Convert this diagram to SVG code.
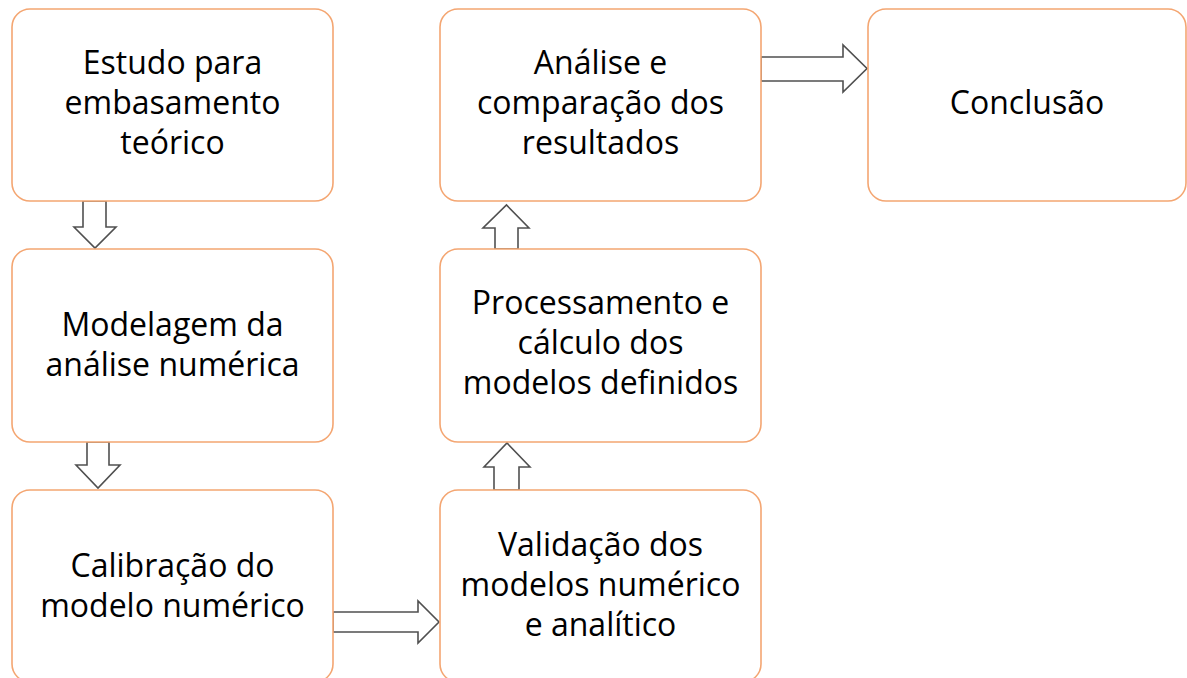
<svg xmlns="http://www.w3.org/2000/svg" width="1187" height="678" viewBox="0 0 1187 678">
<style>
.box{fill:#fff;stroke:#F4A672;stroke-width:1.6}
.t{font-family:"Open Sans",Lato,sans-serif;font-size:32px;fill:#000;text-anchor:middle}
.ar{fill:#fff;stroke:#505050;stroke-width:1.6;stroke-linejoin:miter}
</style>
<rect width="1187" height="678" fill="#fff"/>
<g id="connectors">
<polygon class="ar" points="83,201 106,201 106,227 116,227 95,248 74,227 83,227"/>
<polygon class="ar" points="87,442 109,442 109,465 120,465 98,488 76,465 87,465"/>
<polygon class="ar" points="333,612 418,612 418,601 439,622 418,643 418,632 333,632"/>
<polygon class="ar" points="495,249 518,249 518,228 529,228 506.5,205 483,228 495,228"/>
<polygon class="ar" points="494,490 519,490 519,467 530,467 507,443 484,467 494,467"/>
<polygon class="ar" points="761,57 843,57 843,45 867,68.5 843,92 843,81 761,81"/>
</g>
<g id="n1"><rect class="box" x="12" y="9" width="321" height="192" rx="18"/>
<text class="t" x="172.5" y="74">Estudo para</text><text class="t" x="172.5" y="114">embasamento</text><text class="t" x="172.5" y="154">teórico</text></g>
<g id="n2"><rect class="box" x="12" y="249" width="321" height="193" rx="18"/>
<text class="t" x="172.5" y="336">Modelagem da</text><text class="t" x="172.5" y="376">análise numérica</text></g>
<g id="n3"><rect class="box" x="12" y="490" width="321" height="192" rx="18"/>
<text class="t" x="172.5" y="577">Calibração do</text><text class="t" x="172.5" y="617">modelo numérico</text></g>
<g id="n4"><rect class="box" x="440" y="490" width="321" height="192" rx="18"/>
<text class="t" x="600.5" y="556">Validação dos</text><text class="t" x="600.5" y="596">modelos numérico</text><text class="t" x="600.5" y="636">e analítico</text></g>
<g id="n5"><rect class="box" x="440" y="249" width="321" height="193" rx="18"/>
<text class="t" x="600.5" y="314">Processamento e</text><text class="t" x="600.5" y="354">cálculo dos</text><text class="t" x="600.5" y="394">modelos definidos</text></g>
<g id="n6"><rect class="box" x="440" y="9" width="321" height="192" rx="18"/>
<text class="t" x="600.5" y="74">Análise e</text><text class="t" x="600.5" y="114">comparação dos</text><text class="t" x="600.5" y="154">resultados</text></g>
<g id="n7"><rect class="box" x="868" y="9" width="318" height="192" rx="18"/>
<text class="t" x="1027" y="114">Conclusão</text></g>
</svg>
